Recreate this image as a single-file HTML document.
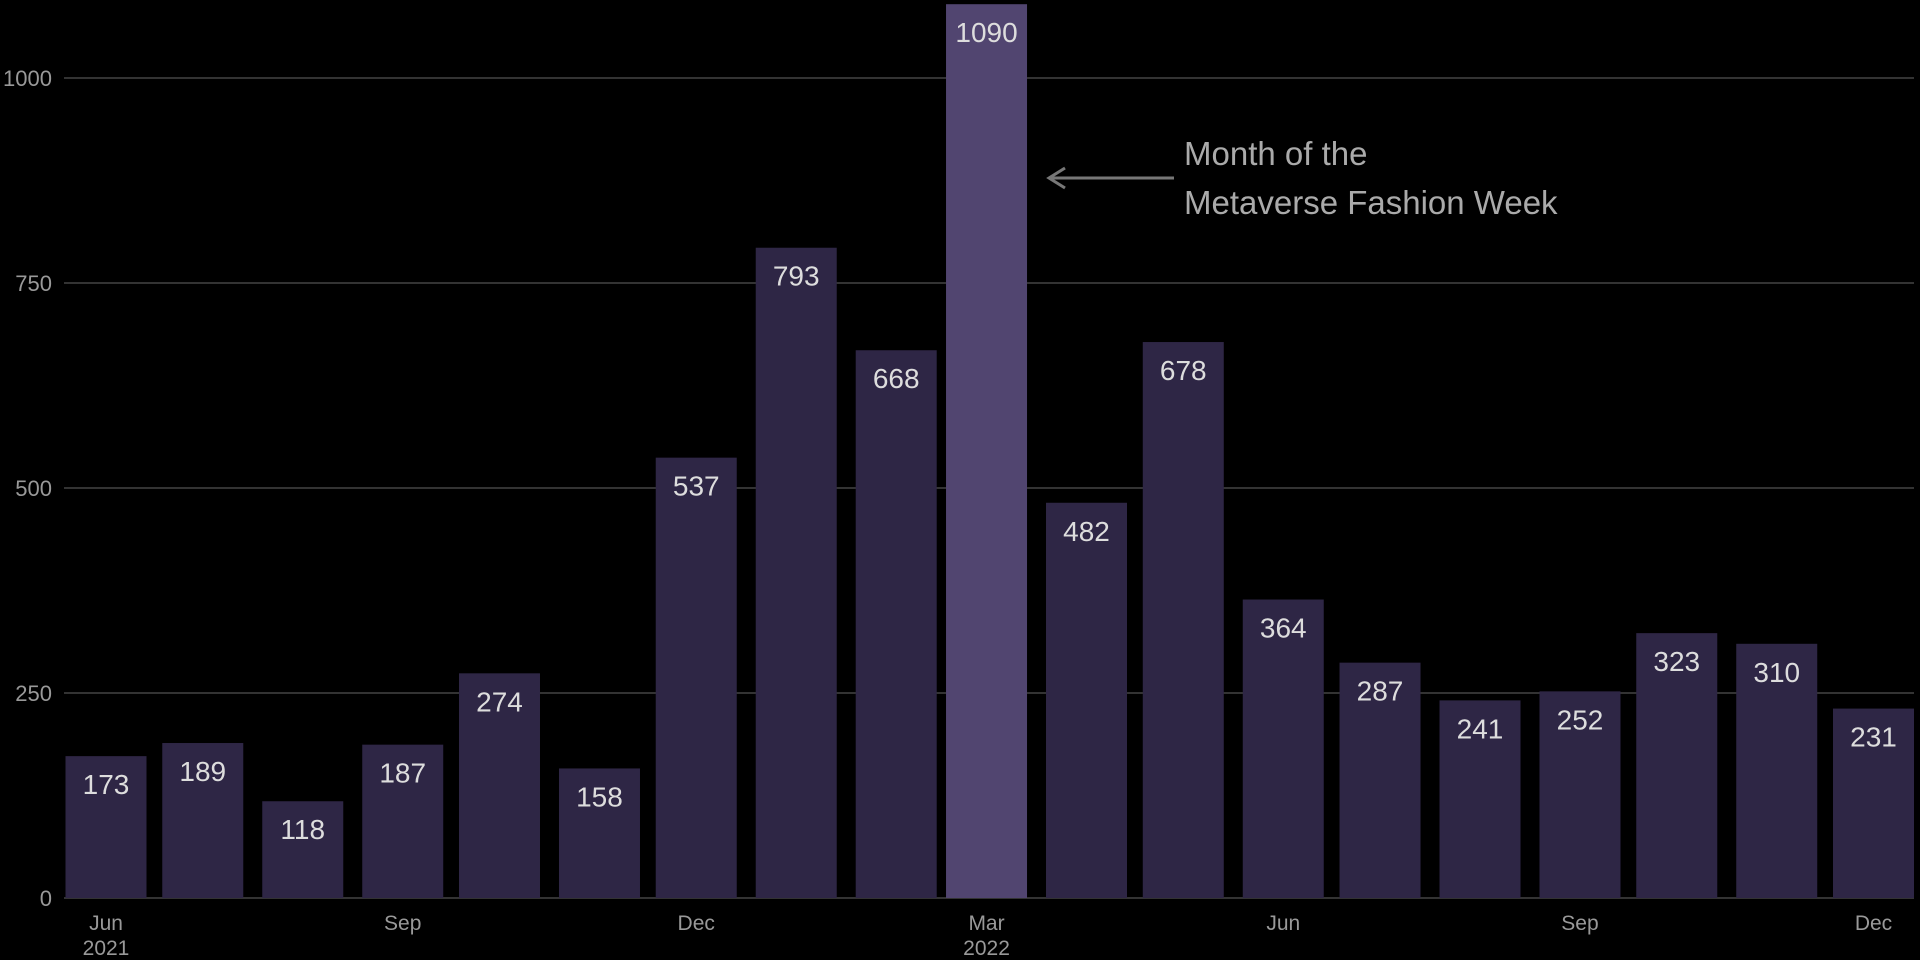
<!DOCTYPE html>
<html><head><meta charset="utf-8">
<style>
html,body{margin:0;padding:0;background:#000;}
svg{display:block;font-family:"Liberation Sans",Arial,sans-serif;}
</style></head>
<body>
<svg id="chart" width="1920" height="960" viewBox="0 0 1920 960" xmlns="http://www.w3.org/2000/svg">
<rect width="1920" height="960" fill="#000"/>
<g id="grid"></g><g id="bars"></g><g id="labels"></g>
<g>
  <line x1="1174" y1="178" x2="1049" y2="178" stroke="#777" stroke-width="3"/>
  <polyline points="1065,168 1049,178 1065,188" fill="none" stroke="#777" stroke-width="3"/>
  <text x="1184" y="165" font-size="33" fill="#aaa">Month of the</text>
  <text x="1184" y="214" font-size="33" fill="#aaa">Metaverse Fashion Week</text>
</g>
</svg>
<script>
const months = ["2021-06","2021-07","2021-08","2021-09","2021-10","2021-11","2021-12","2022-01","2022-02","2022-03","2022-04","2022-05","2022-06","2022-07","2022-08","2022-09","2022-10","2022-11","2022-12"];
const values = [173,189,118,187,274,158,537,793,668,1090,482,678,364,287,241,252,323,310,231];
const highlightIndex = 9;
const yTicks = [0,250,500,750,1000];
const xTickIdx = [0,3,6,9,12,15,18];
const xTickLabels = ["Jun\n2021","Sep","Dec","Mar\n2022","Jun","Sep","Dec"];

const NS="http://www.w3.org/2000/svg";
const y0=898, yScale=0.82;
function y(v){return y0-v*yScale;}
const t0=Date.UTC(2021,5,1), t1=Date.UTC(2022,11,1);
function x(i){const p=months[i].split('-');const t=Date.UTC(+p[0],+p[1]-1,1);return 106+(t-t0)/(t1-t0)*(1873.5-106);}
const bw=81;
function mk(tag,attrs,parent){const e=document.createElementNS(NS,tag);for(const k in attrs)e.setAttribute(k,attrs[k]);parent.appendChild(e);return e;}
const grid=document.getElementById('grid'),bars=document.getElementById('bars'),labels=document.getElementById('labels');
yTicks.forEach(t=>{
  const l=mk('line',{x1:64,x2:1914,y1:y(t),y2:y(t),stroke:'#333','stroke-width':2},grid);
  
  
  const tx=mk('text',{x:52,y:y(t)+8,'text-anchor':'end','font-size':22,fill:'#999'},grid);
  tx.textContent=t;
  
  
});
values.forEach((v,i)=>{
  const r=mk('rect',{x:x(i)-bw/2,y:y(v),width:bw,height:y0-y(v),fill:i===highlightIndex?'#514570':'#2e2645'},bars);
  
  
  const t=mk('text',{x:x(i),y:y(v)+38,'text-anchor':'middle','font-size':28,fill:'#ddd'},labels);
  t.textContent=v;
  
  
});
xTickIdx.forEach((idx,k)=>{
  const parts=xTickLabels[k].split('\n');
  parts.forEach((p,j)=>{
    const t=mk('text',{x:x(idx),y:930+j*25,'text-anchor':'middle','font-size':21,fill:'#999'},labels);
    t.textContent=p;
    
    
  });
});
</script>
</body></html>
